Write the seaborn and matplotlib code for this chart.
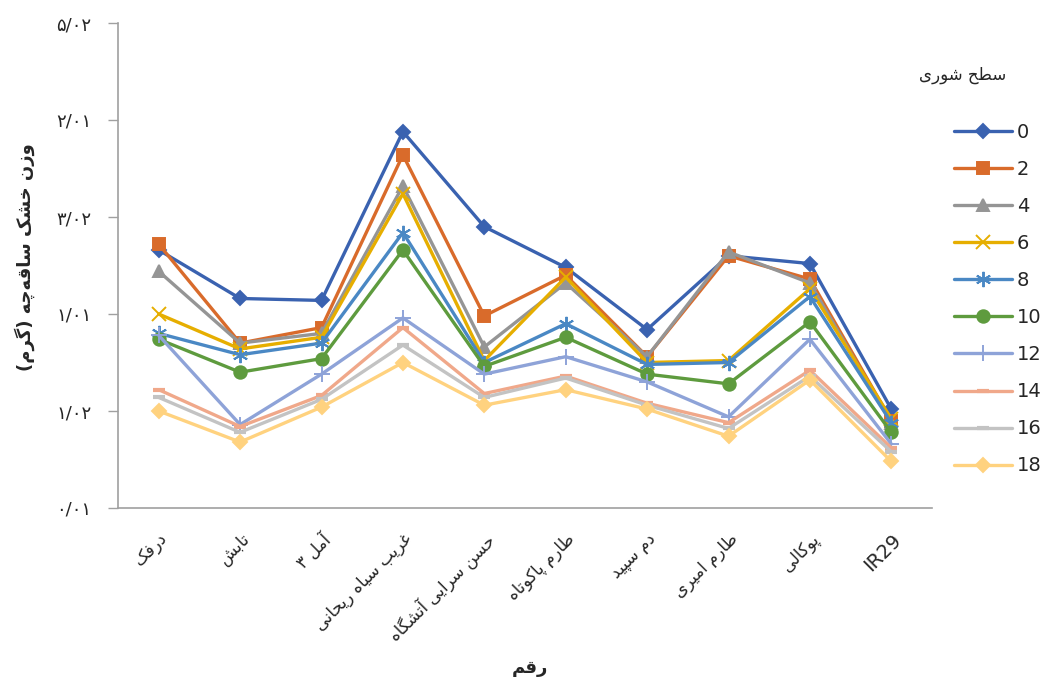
# -*- coding: utf-8 -*-
import matplotlib
matplotlib.use("Agg")
import matplotlib.pyplot as plt
import seaborn as sns

# Data
cultivars = ["درفک", "تابش", "آمل ۳", "غریب سیاه ریحانی", "حسن سرایی آتشگاه",
             "طارم پاکوتاه", "دم سپید", "طارم امیری", "پوکالی", "IR29"]
salinity = ["0", "2", "4", "6", "8", "10", "12", "14", "16", "18"]
s0 = [1.33, 1.08, 1.07, 1.94, 1.45, 1.24, 0.92, 1.30, 1.26, 0.51]
s2 = [1.36, 0.85, 0.93, 1.82, 0.99, 1.20, 0.78, 1.30, 1.18, 0.45]
s4 = [1.22, 0.85, 0.90, 1.66, 0.83, 1.16, 0.78, 1.32, 1.16, 0.44]
s6 = [1.00, 0.82, 0.88, 1.62, 0.76, 1.19, 0.75, 0.76, 1.13, 0.46]
s8 = [0.90, 0.79, 0.85, 1.42, 0.75, 0.95, 0.74, 0.75, 1.09, 0.44]
s10 = [0.87, 0.70, 0.77, 1.33, 0.73, 0.88, 0.69, 0.64, 0.96, 0.39]
s12 = [0.89, 0.43, 0.69, 0.98, 0.69, 0.78, 0.65, 0.47, 0.87, 0.33]
s14 = [0.61, 0.42, 0.58, 0.93, 0.59, 0.68, 0.54, 0.44, 0.71, 0.31]
s16 = [0.57, 0.39, 0.56, 0.84, 0.57, 0.67, 0.53, 0.41, 0.68, 0.29]
s18 = [0.50, 0.34, 0.52, 0.75, 0.53, 0.61, 0.51, 0.37, 0.66, 0.24]
series = [s0, s2, s4, s6, s8, s10, s12, s14, s16, s18]

ytick_vals = [0, 0.5, 1.0, 1.5, 2.0, 2.5]
ytick_labels = ["\u06f0/\u06f0\u06f1", "\u06f1/\u06f0\u06f2", "\u06f1/\u06f0\u06f1",
                "\u06f3/\u06f0\u06f2", "\u06f2/\u06f0\u06f1", "\u06f5/\u06f0\u06f2"]

colors = ["#3A62B0", "#D96B2B", "#959595", "#E6AE00", "#4A88C4",
          "#5E9B3E", "#8EA3D8", "#F0A88A", "#C3C3C3", "#FFD27F"]
markers = ["D", "s", "^", "x", (6, 2, 0), "o", "+", "_", "_", "D"]
msizes = [7, 8, 9, 10, 11, 9, 11, 9, 9, 7]

# --- tiny Persian shaper (matplotlib has no bidi / joining) ---
FORMS = {
    "ا": (0xFE8D, 2), "آ": (0xFE81, 2), "ب": (0xFE8F, 4), "ت": (0xFE95, 4),
    "ث": (0xFE99, 4), "ج": (0xFE9D, 4), "ح": (0xFEA1, 4), "خ": (0xFEA5, 4),
    "د": (0xFEA9, 2), "ذ": (0xFEAB, 2), "ر": (0xFEAD, 2), "ز": (0xFEAF, 2),
    "س": (0xFEB1, 4), "ش": (0xFEB5, 4), "ص": (0xFEB9, 4), "ض": (0xFEBD, 4),
    "ط": (0xFEC1, 4), "ظ": (0xFEC5, 4), "ع": (0xFEC9, 4), "غ": (0xFECD, 4),
    "ف": (0xFED1, 4), "ق": (0xFED5, 4), "ل": (0xFEDD, 4), "م": (0xFEE1, 4),
    "ن": (0xFEE5, 4), "ه": (0xFEE9, 4), "و": (0xFEED, 2), "\u06cc": (0xFBFC, 4),
    "\u06a9": (0xFB8E, 4), "\u06af": (0xFB92, 4), "\u067e": (0xFB56, 4),
    "\u0686": (0xFB7A, 4), "\u0698": (0xFB8A, 2),
}


def fa(text):
    text = text.replace("\u064a", "\u06cc").replace("\u0643", "\u06a9")
    if not any(c in FORMS for c in text):
        return text
    chars = list(text)
    out = []
    for i, c in enumerate(chars):
        if c not in FORMS:
            out.append(c)
            continue
        prev = chars[i - 1] if i > 0 else ""
        nxt = chars[i + 1] if i + 1 < len(chars) else ""
        base, n = FORMS[c]
        jp = prev in FORMS and FORMS[prev][1] == 4
        jn = n == 4 and nxt in FORMS
        if n == 2:
            idx = 1 if jp else 0
        else:
            idx = 3 if (jp and jn) else 1 if jp else 2 if jn else 0
        out.append(chr(base + idx))
    s = "".join(out).replace("\u200c", "")
    return s[::-1].translate(str.maketrans("()", ")("))


sns.set_theme(style="ticks")
plt.rcParams["font.family"] = ["DejaVu Sans"]

fig = plt.figure(figsize=(10.45, 6.82), dpi=100)
ax = fig.add_axes([118 / 1045, 1 - 508 / 682, (932 - 118) / 1045, (508 - 23) / 682])

xlabels = [fa(c) for c in cultivars]
for vals, lab, col, mk, ms in zip(series, salinity, colors, markers, msizes):
    sns.lineplot(x=xlabels, y=vals, ax=ax, color=col, label=lab, sort=False,
                 linewidth=2.4, marker=mk, markersize=ms,
                 markeredgecolor=col, markerfacecolor=col,
                 markeredgewidth=1.4 if mk not in ("_",) else 3)

ax.set_ylim(0, 2.5)
ax.set_xlim(-0.5, 9.5)
ax.set_yticks(ytick_vals)
ax.set_yticklabels(ytick_labels, fontsize=13)
ax.tick_params(axis="y", length=7, width=1, color="#A0A0A0", pad=12)
ax.tick_params(axis="x", length=0, pad=16)
for t in ax.get_xticklabels():
    t.set_rotation(45)
    t.set_ha("right")
    t.set_rotation_mode("anchor")
    t.set_fontsize(14 if t.get_text() == "IR29" else 12)

for side in ("top", "right"):
    ax.spines[side].set_visible(False)
for side in ("left", "bottom"):
    ax.spines[side].set_color("#A0A0A0")
    ax.spines[side].set_linewidth(1.2)

ax.set_xlabel(fa("رقم"), fontsize=13, fontweight="bold", va="center")
ax.xaxis.set_label_coords((530 - 118) / 814, (508 - 668) / 485)
ax.set_ylabel(fa("وزن خشک ساقه\u200cچه (گرم)"), fontsize=13, fontweight="bold", va="center")
ax.yaxis.set_label_coords((25 - 118) / 814, (508 - 257) / 485)

fig.text(963 / 1045, 1 - 75 / 682, fa("سطح شوری"), fontsize=12, ha="center", va="center")
ax.legend(loc="upper left", bbox_to_anchor=(944 / 1045, 1 - 113 / 682),
          bbox_transform=fig.transFigure, frameon=False, fontsize=14,
          handlelength=3.0, handletextpad=0.25, labelspacing=0.93, borderpad=0)

fig.savefig("out.png", dpi=100)
